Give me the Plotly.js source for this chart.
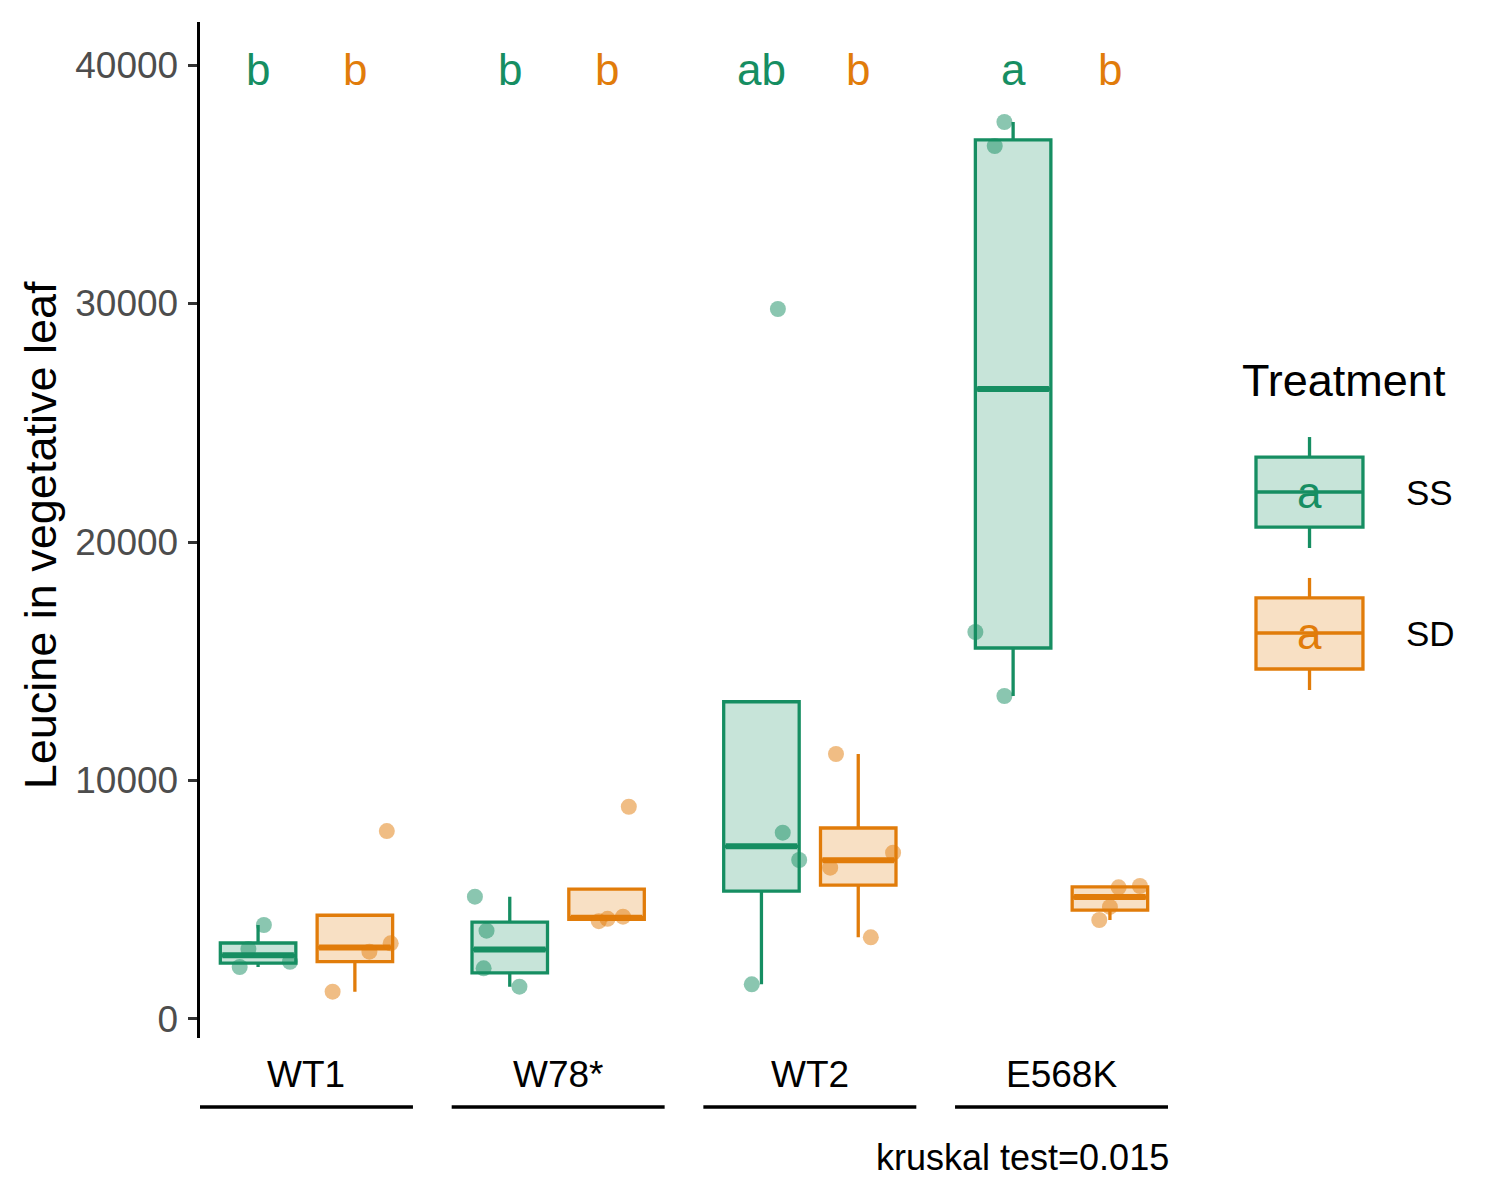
<!DOCTYPE html>
<html>
<head>
<meta charset="utf-8">
<script src="https://cdn.plot.ly/plotly-3.0.1.min.js"></script>
<style>html,body{margin:0;padding:0;background:#fff;}#chart{width:1500px;height:1200px;}</style>
</head>
<body>
<div id="chart"></div>
<script>
// ---- data ----
const genotypes = ["WT1", "W78*", "WT2", "E568K"];
const treatments = ["SS", "SD"];
const ssValues = [
  [2180, 2400, 2935, 3940],
  [1355, 2125, 3703, 5130],
  [1455, 6667, 7812, 29770],
  [13543, 16227, 36605, 37611]
];
const sdValues = [
  [1145, 2822, 3174, 7880],
  [4100, 4200, 4290, 8900],
  [3425, 6344, 6974, 11111],
  [4151, 4700, 5522, 5577]
];
// horizontal jitter of each point (category units), same order as values
const ssJitter = [
  [-0.19, 0.33, -0.10, 0.06],
  [0.10, -0.27, -0.24, -0.36],
  [-0.10, 0.39, 0.22, 0.17],
  [-0.09, -0.39, -0.19, -0.09]
];
const sdJitter = [
  [-0.23, 0.15, 0.37, 0.33],
  [-0.08, 0.01, 0.17, 0.23],
  [0.13, -0.29, 0.36, -0.23],
  [-0.11, 0.00, 0.09, 0.31]
];
const ssLetters = ["b", "b", "ab", "a"];
const sdLetters = ["b", "b", "b", "b"];
const letterY = 39800;
const yTicks = [0, 10000, 20000, 30000, 40000];
const yTitle = "Leucine in vegetative leaf";
const legendTitle = "Treatment";
const kruskalLabel = "kruskal test=0.015";

// ---- styling ----
const FONT = "Arial, 'Liberation Sans', sans-serif";
const colors = { SS: "rgb(22,142,98)", SD: "rgb(225,124,10)" };
const fills = { SS: "rgba(22,142,98,0.24)", SD: "rgba(225,124,10,0.24)" };
const ptColors = { SS: "rgba(22,142,98,0.5)", SD: "rgba(225,124,10,0.5)" };
const boxW = 0.78;
const domains = [[0, 0.22], [0.26, 0.48], [0.52, 0.74], [0.78, 1.0]];

function q7(s, p) {
  const h = (s.length - 1) * p, lo = Math.floor(h), hi = Math.ceil(h);
  return s[lo] + (h - lo) * (s[hi] - s[lo]);
}
function stats(vals) {
  const s = vals.slice().sort((a, b) => a - b);
  const q1 = q7(s, 0.25), med = q7(s, 0.5), q3 = q7(s, 0.75);
  const iqr = q3 - q1;
  const inside = s.filter(v => v >= q1 - 1.5 * iqr && v <= q3 + 1.5 * iqr);
  const lo = Math.min(Math.min(...inside), q1);
  const hi = Math.max(Math.max(...inside), q3);
  return { q1, med, q3, lo, hi };
}

const traces = [];
const annotations = [];
const shapes = [];
const layout = {
  width: 1500, height: 1200,
  margin: { l: 200, r: 332, t: 22, b: 162, pad: 0 },
  paper_bgcolor: "#fff", plot_bgcolor: "rgba(0,0,0,0)",
  showlegend: false,
  font: { family: FONT, color: "#000" },
  yaxis: {
    range: [-797, 41803], tickvals: yTicks, ticktext: yTicks.map(String),
    showgrid: false, zeroline: false, showline: true, linecolor: "#000", linewidth: 3.4,
    ticks: "outside", ticklen: 9, tickwidth: 3, tickcolor: "#333",
    ticklabelstandoff: 2,
    tickfont: { family: FONT, size: 37, color: "#4D4D4D" },
    anchor: "x", fixedrange: true
  }
};

genotypes.forEach((g, i) => {
  const ax = i === 0 ? "x" : "x" + (i + 1);
  const axKey = i === 0 ? "xaxis" : "xaxis" + (i + 1);
  layout[axKey] = {
    domain: domains[i], range: [-0.6, 1.6], visible: false,
    showgrid: false, zeroline: false, anchor: "y", fixedrange: true
  };
  const groups = [
    { t: "SS", vals: ssValues[i], jit: ssJitter[i], pos: 0, letter: ssLetters[i] },
    { t: "SD", vals: sdValues[i], jit: sdJitter[i], pos: 1, letter: sdLetters[i] }
  ];
  groups.forEach(gr => {
    const st = stats(gr.vals);
    traces.push({
      type: "box", orientation: "v", x: [gr.pos],
      q1: [st.q1], median: [st.med], q3: [st.q3],
      lowerfence: [st.lo], upperfence: [st.hi],
      width: boxW, boxpoints: false, whiskerwidth: 0,
      fillcolor: fills[gr.t], line: { color: colors[gr.t], width: 3.3 },
      xaxis: ax, yaxis: "y", hoverinfo: "skip", name: gr.t
    });
    // thicker median line (ggplot fatten)
    traces.push({
      type: "scatter", mode: "lines",
      x: [gr.pos - boxW / 2 + 0.02, gr.pos + boxW / 2 - 0.02], y: [st.med, st.med],
      line: { color: colors[gr.t], width: 6 }, xaxis: ax, yaxis: "y", hoverinfo: "skip"
    });
  });
  groups.forEach(gr => {
    traces.push({
      type: "scatter", mode: "markers",
      x: gr.jit.map(j => gr.pos + j), y: gr.vals,
      marker: { size: 16, color: ptColors[gr.t], line: { width: 0 } },
      xaxis: ax, yaxis: "y", hoverinfo: "skip"
    });
    annotations.push({
      xref: ax, yref: "y", x: gr.pos, y: letterY, text: gr.letter, showarrow: false,
      font: { family: FONT, size: 44, color: colors[gr.t] }, xanchor: "center", yanchor: "middle"
    });
  });
  // facet strip label and underline
  const cx = (domains[i][0] + domains[i][1]) / 2;
  annotations.push({
    xref: "paper", yref: "paper", x: cx, y: -0.0364, text: g, showarrow: false,
    font: { family: FONT, size: 37, color: "#000" }, xanchor: "center", yanchor: "middle"
  });
  shapes.push({
    type: "line", xref: "paper", yref: "paper", x0: domains[i][0], x1: domains[i][1],
    y0: -0.0679, y1: -0.0679, line: { color: "#000", width: 3.5 }
  });
});

// y title
annotations.push({
  xref: "paper", yref: "paper", x: -0.165, y: 0.495, text: yTitle, textangle: -90,
  showarrow: false, font: { family: FONT, size: 45, color: "#000" }, xanchor: "center", yanchor: "middle"
});
// kruskal caption
annotations.push({
  xref: "paper", yref: "paper", x: 1.003, y: -0.118, text: kruskalLabel, showarrow: false,
  font: { family: FONT, size: 36, color: "#000" }, xanchor: "right", yanchor: "middle"
});

// ---- legend (drawn as keys) ----
annotations.push({
  xref: "paper", yref: "paper", x: 1.0744, y: 0.6476, text: legendTitle, showarrow: false,
  font: { family: FONT, size: 45, color: "#000" }, xanchor: "left", yanchor: "middle"
});
const keyX0 = 1.0909, keyX1 = 1.2014, keyXm = 1.1462;
const keys = [
  { t: "SS", top: 0.5718, bot: 0.5029, mid: 0.5374, wt: 0.5915, wb: 0.4823 },
  { t: "SD", top: 0.4331, bot: 0.3632, mid: 0.3986, wt: 0.4528, wb: 0.3425 }
];
keys.forEach(k => {
  const c = colors[k.t];
  shapes.push({ type: "line", xref: "paper", yref: "paper", x0: keyXm, x1: keyXm, y0: k.top, y1: k.wt, line: { color: c, width: 3.3 } });
  shapes.push({ type: "line", xref: "paper", yref: "paper", x0: keyXm, x1: keyXm, y0: k.bot, y1: k.wb, line: { color: c, width: 3.3 } });
  shapes.push({ type: "rect", xref: "paper", yref: "paper", x0: keyX0, x1: keyX1, y0: k.bot, y1: k.top, fillcolor: fills[k.t], line: { color: c, width: 3.3 } });
  shapes.push({ type: "line", xref: "paper", yref: "paper", x0: keyX0, x1: keyX1, y0: k.mid, y1: k.mid, line: { color: c, width: 3.3 } });
  annotations.push({
    xref: "paper", yref: "paper", x: keyXm, y: k.mid, text: "a", showarrow: false,
    font: { family: FONT, size: 44, color: c }, xanchor: "center", yanchor: "middle"
  });
  annotations.push({
    xref: "paper", yref: "paper", x: 1.2438, y: k.mid, text: k.t, showarrow: false,
    font: { family: FONT, size: 35, color: "#000" }, xanchor: "left", yanchor: "middle"
  });
});

layout.annotations = annotations;
layout.shapes = shapes;
Plotly.newPlot("chart", traces, layout, { staticPlot: true, displayModeBar: false });
</script>
</body>
</html>
